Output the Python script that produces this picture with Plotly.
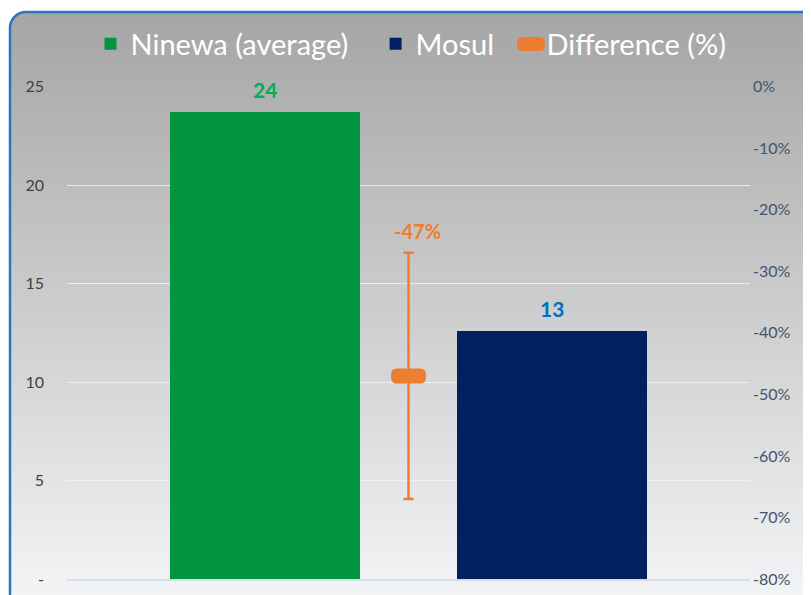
import base64
import plotly.graph_objects as go

# ---- data ----
categories = ["Ninewa (average)", "Mosul"]
values = [23.7, 12.6]
value_labels = ["24", "13"]
diff_name = "Difference (%)"
diff_value = [-47]
diff_error = [20]
diff_label = ["-47%"]
left_ticks = [0, 5, 10, 15, 20, 25]
left_ticktext = ["-", "5", "10", "15", "20", "25"]
right_ticks = [0, -10, -20, -30, -40, -50, -60, -70, -80]
right_ticktext = ["0%", "-10%", "-20%", "-30%", "-40%", "-50%", "-60%", "-70%", "-80%"]

# ---- style / layout ----
OFF = 8  # page body margin
W, H = 811 - OFF, 595 - OFF
ML, MR, MT, MB = 59, 61, 78, 16
PW, PH = W - ML - MR, H - MT - MB
bar_x = [0, 2]
diff_x = [1]
bar_colors = ["#03943f", "#002060"]
label_colors = ["#00b050", "#0070c0"]
orange = "#ed7d31"
FONT = "Lato"
pads = ["\u00a0" * 3, "\u00a0"]
EPS = 0.03  # tiny headroom so the top gridline is drawn


def rounded_rect(hw, hh, r):
    return (f"M{-hw + r},{-hh} L{hw - r},{-hh} Q{hw},{-hh} {hw},{-hh + r} "
            f"L{hw},{hh - r} Q{hw},{hh} {hw - r},{hh} L{-hw + r},{hh} "
            f"Q{-hw},{hh} {-hw},{hh - r} L{-hw},{-hh + r} Q{-hw},{-hh} {-hw + r},{-hh} Z")


fig = go.Figure()
for i, (c, v) in enumerate(zip(categories, values)):
    fig.add_trace(go.Bar(
        x=[bar_x[i]], y=[v], name=c + pads[i], width=1.33,
        marker=dict(color=bar_colors[i], line=dict(width=0)),
        yaxis="y", hoverinfo="skip",
    ))

fig.add_trace(go.Scatter(
    x=diff_x, y=diff_value, name=diff_name, mode="markers", yaxis="y2",
    marker=dict(symbol="circle", size=4, color=orange),
    error_y=dict(type="data", array=diff_error, color=orange, thickness=2.5, width=5),
    hoverinfo="skip", showlegend=False,
))
# legend entry for the difference series (icon drawn as a shape)
fig.add_trace(go.Scatter(
    x=[None], y=[None], name=diff_name, mode="lines", yaxis="y2",
    line=dict(color="rgba(0,0,0,0)", width=1), hoverinfo="skip",
))

shapes = [
    # rounded marker at the difference point
    dict(type="path", xref="x", yref="y2", xsizemode="pixel", ysizemode="pixel",
         xanchor=diff_x[0], yanchor=diff_value[0], path=rounded_rect(17.5, 7.5, 6),
         fillcolor=orange, line=dict(width=0), layer="above"),
    # legend icon
    dict(type="path", xref="paper", yref="paper", xsizemode="pixel", ysizemode="pixel",
         xanchor=(531 - OFF - ML) / PW, yanchor=1 + (MT - (44 - OFF)) / PH,
         path=rounded_rect(14, 7, 6), fillcolor=orange, line=dict(width=0), layer="above"),
]

annotations = []
for i, v in enumerate(values):
    annotations.append(dict(
        x=bar_x[i], y=v, xref="x", yref="y", text=f"<b>{value_labels[i]}</b>",
        showarrow=False, yanchor="bottom", yshift=8,
        font=dict(family=FONT, size=21, color=label_colors[i]),
    ))
annotations.append(dict(
    x=diff_x[0], y=diff_value[0] + diff_error[0], xref="x", yref="y2",
    text=f"<b>{diff_label[0]}</b>", showarrow=False, yanchor="bottom",
    yshift=8, xshift=9, font=dict(family=FONT, size=20, color=orange),
))

svg = (
    f'<svg xmlns="http://www.w3.org/2000/svg" width="{W}" height="{H}">'
    '<defs><linearGradient id="g" x1="0" y1="0" x2="0" y2="1">'
    '<stop offset="0" stop-color="#a5a5a5"/><stop offset="1" stop-color="#f5f6f8"/>'
    '</linearGradient></defs>'
    f'<rect width="{W}" height="{H}" fill="#ffffff"/>'
    '<rect x="2" y="4" width="815" height="600" rx="16" ry="16" fill="url(#g)" '
    'stroke="#2a74c0" stroke-width="2.5"/></svg>'
)
src = "data:image/svg+xml;base64," + base64.b64encode(svg.encode()).decode()

fig.update_layout(
    width=W, height=H,
    margin=dict(l=ML, r=MR, t=MT, b=MB, pad=0, autoexpand=False),
    paper_bgcolor="white", plot_bgcolor="rgba(0,0,0,0)",
    font=dict(family=FONT),
    barmode="overlay", bargap=0,
    showlegend=True,
    legend=dict(orientation="h", x=(411 - OFF - ML) / PW, xanchor="center",
                y=1 + (MT - (44 - OFF)) / PH, yanchor="middle",
                font=dict(family=FONT, size=29, color="white"),
                bgcolor="rgba(0,0,0,0)", itemsizing="constant"),
    xaxis=dict(range=[-1.38, 3.38], showticklabels=False, showgrid=False,
               zeroline=False, showline=True, linecolor="#d6dde8", linewidth=1.5,
               fixedrange=True, automargin=False),
    yaxis=dict(range=[0, 25 + EPS], tickvals=left_ticks, ticktext=left_ticktext,
               showgrid=True, gridcolor="rgba(242,242,245,0.85)", gridwidth=1.2,
               zeroline=False, showline=False, ticks="", ticklabelstandoff=22,
               automargin=False,
               tickfont=dict(family=FONT, size=16, color="#404040")),
    yaxis2=dict(range=[-80, EPS * 80 / 25], tickvals=right_ticks, ticktext=right_ticktext,
                overlaying="y", side="right", showgrid=False, zeroline=False,
                showline=False, ticks="", ticklabelstandoff=2, automargin=False,
                tickfont=dict(family=FONT, size=16, color="#44546a")),
    annotations=annotations,
    shapes=shapes,
    images=[dict(source=src, xref="paper", yref="paper",
                 x=-ML / PW, y=1 + MT / PH, sizex=W / PW, sizey=H / PH,
                 xanchor="left", yanchor="top", sizing="stretch", layer="below")],
)

fig.write_html("out.html")
